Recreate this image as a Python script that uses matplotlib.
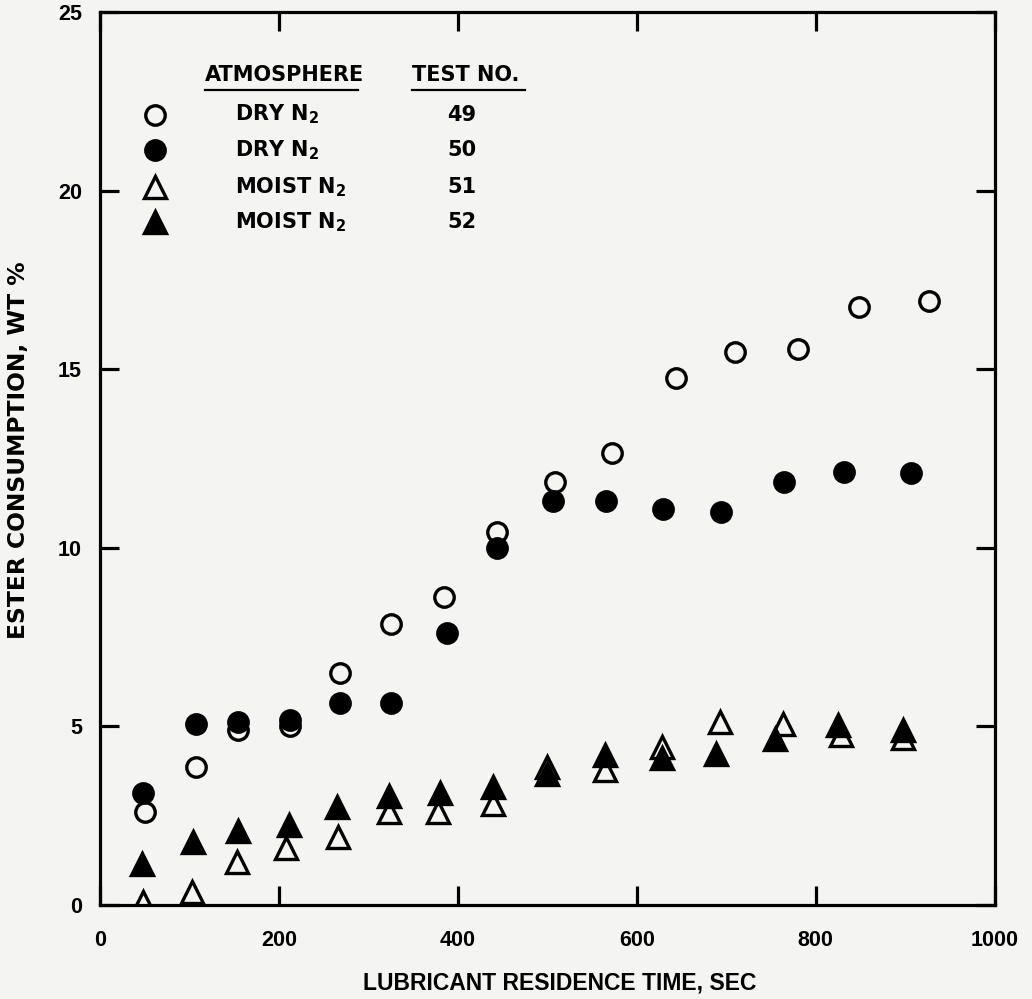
import matplotlib
matplotlib.use("Agg")
import matplotlib.pyplot as plt

# test 49: dry N2 (open circles)
t49_x = [50, 107, 154, 212, 268, 325, 384, 444, 509, 572, 644, 710, 780, 848, 927]
t49_y = [2.6, 3.87, 4.9, 5.0, 6.5, 7.87, 8.63, 10.45, 11.85, 12.66, 14.76, 15.49, 15.57, 16.75, 16.92]
# test 50: dry N2 (filled circles)
t50_x = [48, 107, 154, 212, 268, 325, 388, 444, 506, 565, 629, 694, 764, 832, 906]
t50_y = [3.14, 5.07, 5.12, 5.18, 5.66, 5.66, 7.62, 10.0, 11.32, 11.32, 11.09, 11.0, 11.85, 12.13, 12.1]
# test 51: moist N2 (open triangles)
t51_x = [48, 103, 153, 208, 266, 323, 378, 439, 500, 564, 628, 693, 763, 828, 898]
t51_y = [0.08, 0.35, 1.2, 1.6, 1.9, 2.6, 2.6, 2.83, 3.87, 3.78, 4.43, 5.13, 5.07, 4.76, 4.68]
# test 52: moist N2 (filled triangles)
t52_x = [47, 104, 154, 211, 265, 323, 380, 439, 500, 564, 628, 689, 754, 825, 897]
t52_y = [1.15, 1.77, 2.07, 2.24, 2.75, 3.05, 3.13, 3.3, 3.67, 4.2, 4.12, 4.23, 4.65, 5.04, 4.9]

legend_rows = [
    ("o", "none", r"DRY N$_\mathbf{2}$", "49"),
    ("o", "black", r"DRY N$_\mathbf{2}$", "50"),
    ("^", "none", r"MOIST N$_\mathbf{2}$", "51"),
    ("^", "black", r"MOIST N$_\mathbf{2}$", "52"),
]

bg = "#f4f4f2"
plt.rcParams["font.family"] = ["Liberation Sans", "DejaVu Sans"]
plt.rcParams["mathtext.fontset"] = "custom"
plt.rcParams["mathtext.bf"] = "DejaVu Sans:bold"
plt.rcParams["mathtext.rm"] = "DejaVu Sans:bold"

fig = plt.figure(figsize=(10.32, 9.99), dpi=100, facecolor=bg)
ax = fig.add_axes([0.0969, 0.0941, 0.867, 0.894])
ax.set_facecolor(bg)

circ = dict(linestyle="none", markersize=14, markeredgewidth=2.4, color="black")
tri = dict(linestyle="none", markersize=16, markeredgewidth=2.4, color="black")
ax.plot(t49_x, t49_y, marker="o", markerfacecolor=bg, **circ)
ax.plot(t50_x, t50_y, marker="o", markerfacecolor="black", **circ)
ax.plot(t51_x, t51_y, marker="^", markerfacecolor=bg, **tri)
ax.plot(t52_x, t52_y, marker="^", markerfacecolor="black", **tri)

ax.set_xlim(0, 1000)
ax.set_ylim(0, 25)
ax.set_xticks([0, 200, 400, 600, 800, 1000])
ax.set_yticks([0, 5, 10, 15, 20, 25])

for s in ax.spines.values():
    s.set_linewidth(2.3)
ax.tick_params(direction="in", length=14, width=2.3, top=True, right=True)
ax.tick_params(axis="x", pad=18)
ax.tick_params(axis="y", pad=13)
for lab in ax.get_xticklabels() + ax.get_yticklabels():
    lab.set_fontweight("bold")
    lab.set_fontsize(15.5)

fig.text(560 / 1032, 1 - 983 / 999, "LUBRICANT RESIDENCE TIME, SEC", fontsize=16.5,
         fontweight="bold", ha="center", va="center")
fig.text(19 / 1032, 1 - 450 / 999, "ESTER CONSUMPTION, WT %", fontsize=16.8,
         fontweight="bold", family="DejaVu Sans", rotation=90, ha="center", va="center")

# legend table
tr = ax.transAxes
hdr = dict(transform=tr, fontsize=15, fontweight="bold", family="DejaVu Sans", va="center")
ax.text(0.117, 0.929, "ATMOSPHERE", **hdr)
ax.text(0.349, 0.929, "TEST NO.", **hdr)
ax.plot([0.117, 0.288], [0.912, 0.912], transform=tr, color="black", lw=1.6)
ax.plot([0.349, 0.475], [0.912, 0.912], transform=tr, color="black", lw=1.6)
row_y = [0.885, 0.845, 0.804, 0.765]
for (m, fc, name, num), yy in zip(legend_rows, row_y):
    ax.plot([0.0615], [yy], transform=tr, marker=m, markerfacecolor=bg if fc == "none" else fc,
            **(circ if m == "o" else tri))
    ax.text(0.151, yy, name, **hdr)
    ax.text(0.404, yy, num, ha="center", **hdr)

fig.savefig("out.png", dpi=100, facecolor=bg)
